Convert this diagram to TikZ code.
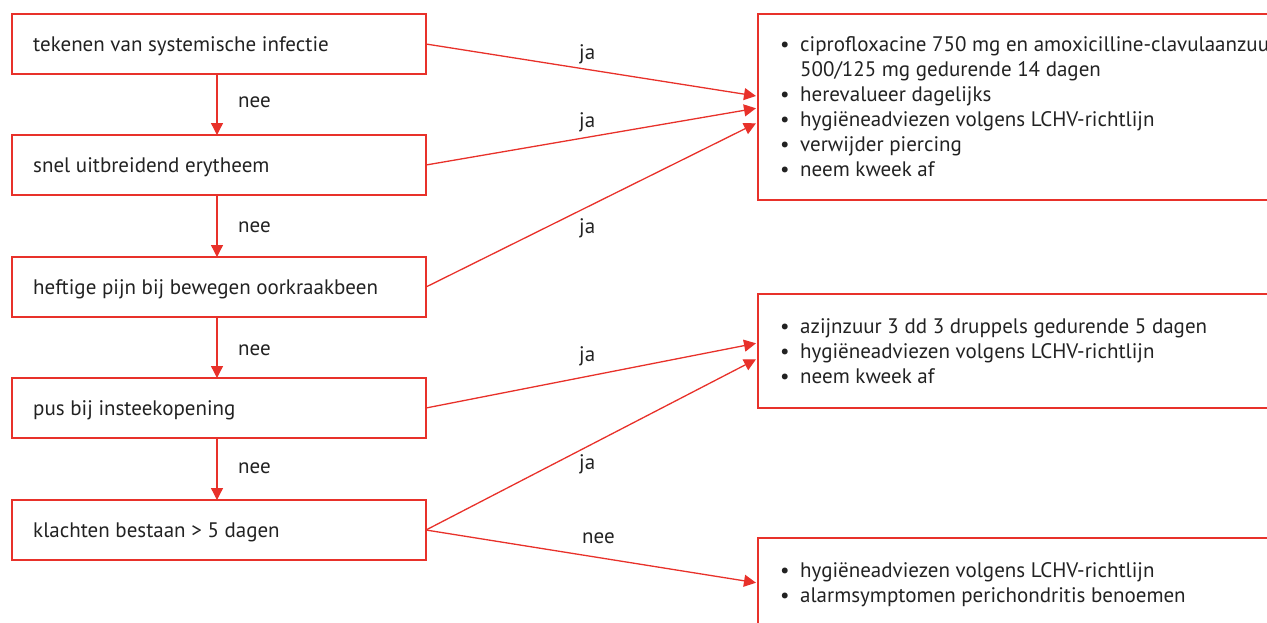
\documentclass[tikz,border=0pt]{standalone}
\usepackage{fontspec}
\setmainfont{PT Sans}
\usetikzlibrary{arrows.meta}
\definecolor{lred}{HTML}{E8312A}
\definecolor{txt}{HTML}{222222}
\newcommand{\bl}{\makebox[20pt][l]{\textbullet}}
\newcommand{\blist}[1]{\parbox[t]{640pt}{\raggedright #1}}
\begin{document}
\begin{tikzpicture}[x=1pt,y=-1pt,
  box/.style={draw=lred, line width=1.3pt, anchor=north west, inner sep=0pt, outer sep=0pt},
  lbox/.style={box, minimum width=414pt, minimum height=60pt},
  rbox/.style={box, minimum width=560pt},
  fnt/.style={text=txt, font=\fontsize{21}{25}\selectfont},
  btxt/.style={fnt, anchor=base west, inner sep=0pt},
  lbl/.style={fnt, anchor=base west, inner sep=0pt},
  arr/.style={draw=lred, line width=1.3pt, -{Triangle[length=12pt,width=12pt]}},
]
\useasboundingbox (0,0) rectangle (1267,622);
\clip (0,0) rectangle (1267,622);
% left boxes
\node[lbox] (b1) at (12,14) {};
\node[lbox] (b2) at (12,135) {};
\node[lbox] (b3) at (12,257) {};
\node[lbox] (b4) at (12,378) {};
\node[lbox] (b5) at (12,500) {};
\node[btxt] (t1) at (33,51) {tekenen van systemische infectie};
\node[btxt] (t2) at (33,172) {snel uitbreidend erytheem};
\node[btxt] (t3) at (33,294) {heftige pijn bij bewegen oorkraakbeen};
\node[btxt] (t4) at (33,415) {pus bij insteekopening};
\node[btxt] (t5) at (33,537) {klachten bestaan > 5 dagen};
% right boxes
\node[rbox, minimum height=186pt] (r1) at (758,14) {};
\node[rbox, minimum height=114pt] (r2) at (758,294) {};
\node[rbox, minimum height=120pt] (r3) at (758,538) {};
\node[btxt] (r1t) at (780,51.5) {\blist{\bl ciprofloxacine 750 mg en amoxicilline-clavulaanzuur\\
\hspace*{20pt}500/125 mg gedurende 14 dagen\\
\bl herevalueer dagelijks\\
\bl hygiëneadviezen volgens LCHV-richtlijn\\
\bl verwijder piercing\\
\bl neem kweek af}};
\node[btxt] (r2t) at (780,333.5) {\blist{\bl azijnzuur 3 dd 3 druppels gedurende 5 dagen\\
\bl hygiëneadviezen volgens LCHV-richtlijn\\
\bl neem kweek af}};
\node[btxt] (r3t) at (780,577.5) {\blist{\bl hygiëneadviezen volgens LCHV-richtlijn\\
\bl alarmsymptomen perichondritis benoemen}};
% connector end points
\coordinate (e1) at (756,96);
\coordinate (e2) at (756,108.3);
\coordinate (e3) at (756,123.3);
\coordinate (e4) at (756,343.3);
\coordinate (e5) at (756,359.3);
\coordinate (e6) at (756,582.7);
% down arrows
\draw[arr] (b1.south -| 217,0) -- (b2.north -| 217,0);
\draw[arr] (b2.south -| 217,0) -- (b3.north -| 217,0);
\draw[arr] (b3.south -| 217,0) -- (b4.north -| 217,0);
\draw[arr] (b4.south -| 217,0) -- (b5.north -| 217,0);
% right arrows
\draw[arr] (b1.east) -- (e1);
\draw[arr] (b2.east) -- (e2);
\draw[arr] (b3.east) -- (e3);
\draw[arr] (b4.east) -- (e4);
\draw[arr] (b5.east) -- (e5);
\draw[arr] (b5.east) -- (e6);
% labels
\node[lbl] (n1) at (238,107.7) {nee};
\node[lbl] (n2) at (238,232) {nee};
\node[lbl] (n3) at (238,355) {nee};
\node[lbl] (n4) at (238,473.3) {nee};
\node[lbl] (j1) at (579,59) {ja};
\node[lbl] (j2) at (579,127) {ja};
\node[lbl] (j3) at (579,233) {ja};
\node[lbl] (j4) at (579,361) {ja};
\node[lbl] (j5) at (579,469) {ja};
\node[lbl] (n5) at (582,543.3) {nee};
\end{tikzpicture}
\end{document}
